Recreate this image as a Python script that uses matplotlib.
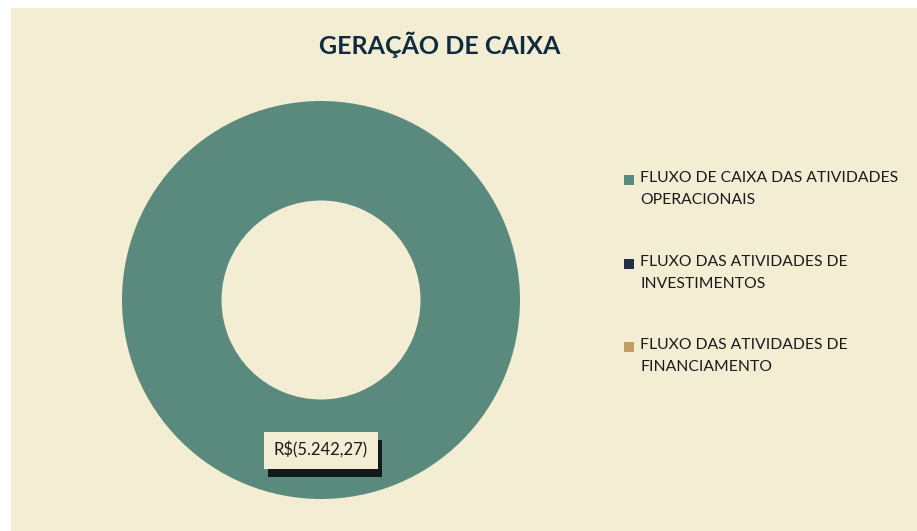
import matplotlib.pyplot as plt
import matplotlib.patheffects as pe
from matplotlib.patches import Rectangle

# data
categorias = ["FLUXO DE CAIXA DAS ATIVIDADES\nOPERACIONAIS",
              "FLUXO DAS ATIVIDADES DE\nINVESTIMENTOS",
              "FLUXO DAS ATIVIDADES DE\nFINANCIAMENTO"]
valores = [5242.27, 0.0, 0.0]
rotulos = ["R$(5.242,27)", "", ""]
cores = ["#5A8A7D", "#233046", "#BE9E64"]

bg = "#F3EDD3"
plt.rcParams['font.family'] = ['Lato', 'DejaVu Sans']

fig = plt.figure(figsize=(9.17, 5.31), dpi=100)
fig.patch.set_facecolor("white")
fig.patches.append(Rectangle((11 / 917, 0), 1, 1 - 8 / 531, transform=fig.transFigure,
                             facecolor=bg, edgecolor="none", zorder=-1))

# donut
ax = fig.add_axes([122 / 917, 32 / 531, 398 / 917, 398 / 531])
ax.set_facecolor("none")
wedges, _ = ax.pie(valores, colors=cores, startangle=90, counterclock=False,
                   radius=1.0, wedgeprops=dict(width=0.5, edgecolor="none"))
ax.set_aspect("equal")
ax.set_xlim(-1, 1)
ax.set_ylim(-1, 1)

t = ax.text(0.0, -0.755, rotulos[0], ha="center", va="center", fontsize=12,
            color="#1A1A1A",
            bbox=dict(boxstyle="square,pad=0.6", facecolor=bg, edgecolor="none"))
t.get_bbox_patch().set_path_effects([
    pe.SimplePatchShadow(offset=(3, -6), shadow_rgbFace="black", alpha=0.8),
    pe.Normal()])

fig.text(440 / 917, 1 - 45 / 531, "GERAÇÃO DE CAIXA", ha="center", va="center",
         fontsize=18, fontweight="bold", color="#0F2B40")

# legend
y0 = 180
for i, (cat, cor) in enumerate(zip(categorias, cores)):
    yc = y0 + i * 83.5
    fig.patches.append(Rectangle((624 / 917, 1 - (yc + 5) / 531), 10 / 917, 10 / 531,
                                 transform=fig.transFigure, facecolor=cor,
                                 edgecolor="none"))
    fig.text(640 / 917, 1 - (yc - 9) / 531, cat, ha="left", va="top",
             fontsize=11.3, color="#1A1A1A", linespacing=1.75)

fig.savefig("out.png", dpi=100, facecolor=fig.get_facecolor())
